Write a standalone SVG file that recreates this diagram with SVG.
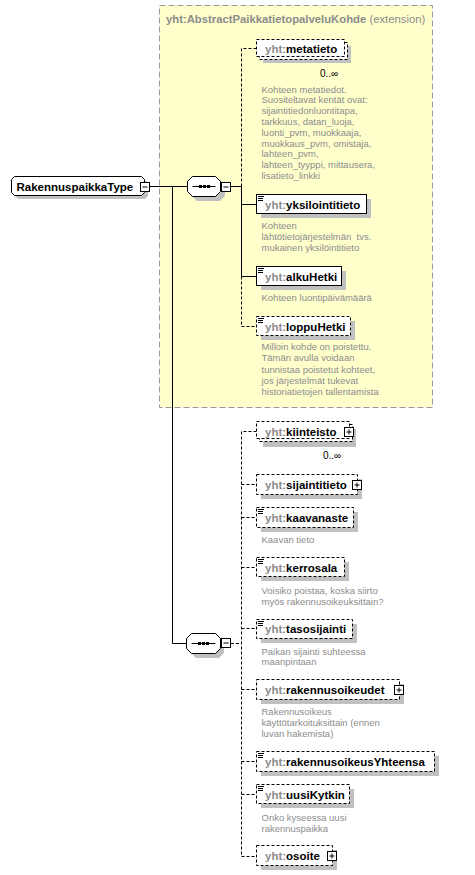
<svg xmlns="http://www.w3.org/2000/svg" width="475" height="875" viewBox="0 0 475 875">
<style>
.lbl{font-family:"Liberation Sans",Arial,sans-serif;font-size:11.5px;font-weight:bold;fill:#000}
.ns{fill:#8c8c8c}
.desc{font-family:"Liberation Sans",Arial,sans-serif;font-size:9.5px;fill:#8c8c8c}
.mult{font-family:"Liberation Sans",Arial,sans-serif;font-size:10px;fill:#000}
.box{fill:#fff;stroke:#000;stroke-width:1}
.dbox{fill:#fff;stroke:#000;stroke-width:1;stroke-dasharray:3,2}
.sh{fill:#c0c0c0}
.ln{stroke:#000;stroke-width:1;fill:none}
.dl{stroke:#000;stroke-width:1;fill:none;stroke-dasharray:3,2}
.ic{stroke:#000;stroke-width:1}
.pm{fill:#fff;stroke:#000;stroke-width:1}
</style>
<rect width="475" height="875" fill="#fff"/>
<g id="extension">
<rect x="159.5" y="5.5" width="273" height="402" fill="#ffffcc" stroke="#999" stroke-dasharray="6,3"/>
<text x="166" y="23" font-family="Liberation Sans,Arial,sans-serif" font-size="11.3" fill="#8c8c8c"><tspan font-weight="bold">yht:AbstractPaikkatietopalveluKohde</tspan> (extension)</text>
</g>
<g id="connectors">
<line class="ln" x1="149" y1="186.5" x2="187.5" y2="186.5"/>
<polyline class="ln" points="172.5,186.5 172.5,643.5 187,643.5"/>
<line class="ln" x1="231" y1="186.5" x2="241.5" y2="186.5"/>
<polyline class="dl" points="256.5,48.5 241.5,48.5 241.5,186.5"/>
<line class="ln" x1="241.5" y1="186.5" x2="241.5" y2="276.5"/>
<line class="ln" x1="241.5" y1="204.5" x2="256.5" y2="204.5"/>
<line class="ln" x1="241.5" y1="276.5" x2="256.5" y2="276.5"/>
<polyline class="dl" points="241.5,276.5 241.5,326.5 256.5,326.5"/>
<line class="dl" x1="231" y1="643.5" x2="241.5" y2="643.5"/>
<polyline class="dl" points="256.5,431.5 241.5,431.5 241.5,856.5 256.5,856.5"/>
<line class="dl" x1="241.5" y1="484.5" x2="256.5" y2="484.5"/>
<line class="dl" x1="241.5" y1="517.5" x2="256.5" y2="517.5"/>
<line class="dl" x1="241.5" y1="567.5" x2="256.5" y2="567.5"/>
<line class="dl" x1="241.5" y1="628.5" x2="256.5" y2="628.5"/>
<line class="dl" x1="241.5" y1="689.5" x2="256.5" y2="689.5"/>
<line class="dl" x1="241.5" y1="761.5" x2="256.5" y2="761.5"/>
<line class="dl" x1="241.5" y1="794.5" x2="256.5" y2="794.5"/>
</g>
<g id="RakennuspaikkaType">
<polygon class="sh" points="18,180 145,180 148,183 148,196 145,199 18,199 15,196 15,183"/>
<polygon class="box" points="14.5,176.5 141.5,176.5 144.5,179.5 144.5,192.5 141.5,195.5 14.5,195.5 11.5,192.5 11.5,179.5"/>
<text class="lbl" x="16.5" y="190.5" font-size="11">RakennuspaikkaType</text>
<rect class="pm" x="140.5" y="182.5" width="9" height="9"/>
<line class="ln" x1="142.5" y1="187" x2="147.5" y2="187"/>
</g>
<g id="sequence1">
<polygon class="sh" points="197,180 220,180 225,185 225,196 220,201 197,201 192,196 192,185"/>
<polygon class="box" points="192.5,176.5 215.5,176.5 220.5,181.5 220.5,191.5 215.5,196.5 192.5,196.5 187.5,191.5 187.5,181.5"/>
<line class="ln" x1="192.5" y1="186.5" x2="215.5" y2="186.5"/>
<rect x="199" y="185" width="3" height="3" fill="#000"/>
<rect x="203" y="185" width="3" height="3" fill="#000"/>
<rect x="207" y="185" width="3" height="3" fill="#000"/>
<rect class="pm" x="221.5" y="182.5" width="9" height="9"/>
<line class="ln" x1="223.5" y1="187" x2="228.5" y2="187"/>
</g>
<g id="sequence2">
<polygon class="sh" points="196,637 219,637 224,642 224,653 219,658 196,658 191,653 191,642"/>
<polygon class="box" points="191.5,633.5 215.5,633.5 220.5,638.5 220.5,648.5 215.5,653.5 191.5,653.5 186.5,648.5 186.5,638.5"/>
<line class="ln" x1="191.5" y1="643.5" x2="215.5" y2="643.5"/>
<rect x="198" y="642" width="3" height="3" fill="#000"/>
<rect x="202" y="642" width="3" height="3" fill="#000"/>
<rect x="206" y="642" width="3" height="3" fill="#000"/>
<rect class="pm" x="221.5" y="638.5" width="9" height="9"/>
<line class="ln" x1="223.5" y1="643" x2="228.5" y2="643"/>
</g>
<g id="metatieto">
<rect class="sh" x="263" y="46" width="88" height="17"/>
<rect class="dbox" x="259.5" y="42.5" width="88" height="17"/>
<rect class="dbox" x="256.5" y="39.5" width="88" height="17"/>
<text class="lbl" x="265" y="52.5"><tspan class="ns">yht:</tspan>metatieto</text>
<text class="mult" x="320" y="76.5">0..∞</text>
<text class="desc" x="261.5"><tspan x="261.5" y="92.5">Kohteen metatiedot.</tspan><tspan x="261.5" y="103.3">Suositeltavat kentät ovat:</tspan><tspan x="261.5" y="114.1">sijaintitiedonluontitapa,</tspan><tspan x="261.5" y="124.9">tarkkuus, datan_luoja,</tspan><tspan x="261.5" y="135.7">luonti_pvm, muokkaaja,</tspan><tspan x="261.5" y="146.5">muokkaus_pvm, omistaja,</tspan><tspan x="261.5" y="157.3">lahteen_pvm,</tspan><tspan x="261.5" y="168.1">lahteen_tyyppi, mittausera,</tspan><tspan x="261.5" y="178.9">lisatieto_linkki</tspan></text>
</g>
<g id="yksilointitieto">
<rect class="sh" x="261" y="199" width="110" height="19"/>
<rect class="box" x="256.5" y="194.5" width="110" height="19"/>
<path class="ic" d="M258,196.5h6M258,198.5h5M258,200.5h5"/>
<text class="lbl" x="265" y="208.5"><tspan class="ns">yht:</tspan>yksilointitieto</text>
<text class="desc"><tspan x="261.5" y="229.2">Kohteen</tspan><tspan x="261.5" y="240.2">lähtötietojärjestelmän&#160; tvs.</tspan><tspan x="261.5" y="251.2">mukainen yksilöintitieto</tspan></text>
</g>
<g id="alkuHetki">
<rect class="sh" x="261" y="271" width="85" height="19"/>
<rect class="box" x="256.5" y="266.5" width="85" height="19"/>
<path class="ic" d="M258,268.5h6M258,270.5h5M258,272.5h5"/>
<text class="lbl" x="265" y="280.5"><tspan class="ns">yht:</tspan>alkuHetki</text>
<text class="desc" x="261.5" y="301.2">Kohteen luontipäivämäärä</text>
</g>
<g id="loppuHetki">
<rect class="sh" x="261" y="321" width="94" height="19"/>
<rect class="dbox" x="256.5" y="316.5" width="94" height="19"/>
<path class="ic" d="M258,318.5h6M258,320.5h5M258,322.5h5"/>
<text class="lbl" x="265" y="330.5"><tspan class="ns">yht:</tspan>loppuHetki</text>
<text class="desc"><tspan x="261.5" y="350.2">Milloin kohde on poistettu.</tspan><tspan x="261.5" y="361.4">Tämän avulla voidaan</tspan><tspan x="261.5" y="372.6">tunnistaa poistetut kohteet,</tspan><tspan x="261.5" y="383.8">jos järjestelmät tukevat</tspan><tspan x="261.5" y="395">historiatietojen tallentamista</tspan></text>
</g>
<g id="kiinteisto">
<rect class="sh" x="263" y="429" width="93" height="18"/>
<rect class="dbox" x="259.5" y="424.5" width="93" height="17"/>
<rect class="dbox" x="256.5" y="421.5" width="93" height="17"/>
<text class="lbl" x="265" y="435.5"><tspan class="ns">yht:</tspan>kiinteisto</text>
<rect class="pm" x="344.5" y="427.5" width="9" height="9"/>
<path class="ln" d="M346.5,432h5M349,429.5v5"/>
<text class="mult" x="323" y="458.5">0..∞</text>
</g>
<g id="sijaintitieto">
<rect class="sh" x="261" y="479" width="101" height="20"/>
<rect class="dbox" x="256.5" y="474.5" width="101" height="20"/>
<text class="lbl" x="265" y="488.5"><tspan class="ns">yht:</tspan>sijaintitieto</text>
<rect class="pm" x="352.5" y="480.5" width="9" height="9"/>
<path class="ln" d="M354.5,485h5M357,482.5v5"/>
</g>
<g id="kaavanaste">
<rect class="sh" x="261" y="512" width="97" height="20"/>
<rect class="dbox" x="256.5" y="507.5" width="97" height="20"/>
<path class="ic" d="M258,509.5h6M258,511.5h5M258,513.5h5"/>
<text class="lbl" x="265" y="521.5"><tspan class="ns">yht:</tspan>kaavanaste</text>
<text class="desc" x="261.5" y="543">Kaavan tieto</text>
</g>
<g id="kerrosala">
<rect class="sh" x="261" y="562" width="88" height="19"/>
<rect class="dbox" x="256.5" y="557.5" width="88" height="19"/>
<path class="ic" d="M258,559.5h6M258,561.5h5M258,563.5h5"/>
<text class="lbl" x="265" y="571.5"><tspan class="ns">yht:</tspan>kerrosala</text>
<text class="desc"><tspan x="261.5" y="593.5">Voisiko poistaa, koska siirto</tspan><tspan x="261.5" y="604.5">myös rakennusoikeuksittain?</tspan></text>
</g>
<g id="tasosijainti">
<rect class="sh" x="261" y="624" width="96" height="19"/>
<rect class="dbox" x="256.5" y="619.5" width="96" height="19"/>
<path class="ic" d="M258,621.5h6M258,623.5h5M258,625.5h5"/>
<text class="lbl" x="265" y="633"><tspan class="ns">yht:</tspan>tasosijainti</text>
<text class="desc"><tspan x="261.5" y="654.5">Paikan sijainti suhteessa</tspan><tspan x="261.5" y="665.3">maanpintaan</tspan></text>
</g>
<g id="rakennusoikeudet">
<rect class="sh" x="261" y="684" width="143" height="20"/>
<rect class="dbox" x="256.5" y="679.5" width="143" height="20"/>
<text class="lbl" x="265" y="693.5"><tspan class="ns">yht:</tspan>rakennusoikeudet</text>
<rect class="pm" x="394.5" y="685.5" width="9" height="9"/>
<path class="ln" d="M396.5,690h5M399,687.5v5"/>
<text class="desc"><tspan x="261.5" y="714.5">Rakennusoikeus</tspan><tspan x="261.5" y="725.8">käyttötarkoituksittain (ennen</tspan><tspan x="261.5" y="737">luvan hakemista)</tspan></text>
</g>
<g id="rakennusoikeusYhteensa">
<rect class="sh" x="261" y="756" width="178" height="20"/>
<rect class="dbox" x="256.5" y="751.5" width="178" height="20"/>
<path class="ic" d="M258,753.5h6M258,755.5h5M258,757.5h5"/>
<text class="lbl" x="265" y="765.5"><tspan class="ns">yht:</tspan>rakennusoikeusYhteensa</text>
</g>
<g id="uusiKytkin">
<rect class="sh" x="261" y="789" width="93" height="19"/>
<rect class="dbox" x="256.5" y="784.5" width="93" height="19"/>
<path class="ic" d="M258,786.5h6M258,788.5h5M258,790.5h5"/>
<text class="lbl" x="265" y="798.5"><tspan class="ns">yht:</tspan>uusiKytkin</text>
<text class="desc"><tspan x="261.5" y="821">Onko kyseessa uusi</tspan><tspan x="261.5" y="832">rakennuspaikka</tspan></text>
</g>
<g id="osoite">
<rect class="sh" x="261" y="850" width="76" height="20"/>
<rect class="dbox" x="256.5" y="845.5" width="76" height="20"/>
<text class="lbl" x="265" y="860"><tspan class="ns">yht:</tspan>osoite</text>
<rect class="pm" x="327.5" y="851.5" width="9" height="9"/>
<path class="ln" d="M329.5,856h5M332,853.5v5"/>
</g>
</svg>
